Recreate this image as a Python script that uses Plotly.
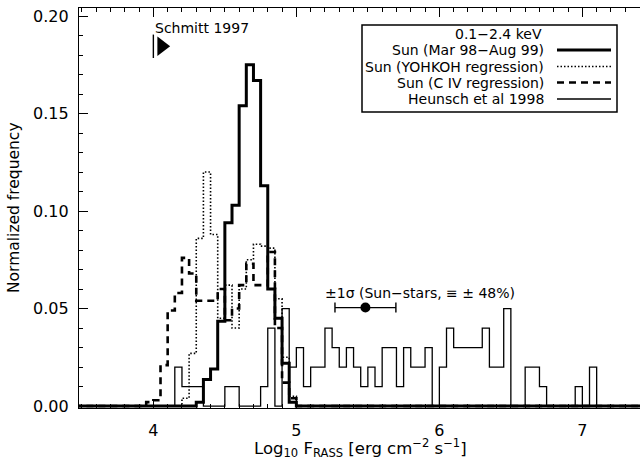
import numpy as np
import plotly.graph_objects as go

# ---------------- data ----------------
BIN = 0.05
sun_start = 4.30
sun_vals = [0.002, 0.0136, 0.019, 0.0435, 0.094, 0.103, 0.154, 0.175,
            0.167, 0.113, 0.060, 0.045, 0.022, 0.002]

yoh_start = 4.20
yoh_vals = [0.004, 0.027, 0.086, 0.120, 0.088, 0.045, 0.062, 0.040,
            0.060, 0.075, 0.083, 0.082, 0.081, 0.055, 0.025, 0.005]

civ_start = 3.95
civ_vals = [0.002, 0.003, 0.021, 0.049, 0.058, 0.076, 0.068, 0.054, 0.054,
            0.054, 0.060, 0.044, 0.050, 0.062, 0.073, 0.062, 0.062, 0.079,
            0.040, 0.012, 0.004]

heu_start = 4.15
heu_vals = [0.02, 0.01, 0.01, 0.01, 0.00, 0.00, 0.00, 0.01, 0.01, 0.00,
            0.00, 0.00, 0.01, 0.04, 0.00, 0.05, 0.02, 0.03, 0.01, 0.02,
            0.02, 0.04, 0.03, 0.02, 0.03, 0.02, 0.01, 0.02, 0.01, 0.03,
            0.03, 0.01, 0.03, 0.02, 0.02, 0.03, 0.00, 0.02, 0.04, 0.03,
            0.03, 0.03, 0.03, 0.04, 0.02, 0.02, 0.05, 0.00, 0.00, 0.02,
            0.02, 0.01, 0.00, 0.00, 0.00, 0.00, 0.01, 0.00, 0.02]

err_center = 5.483
err_half = 0.213
err_level = 0.0505
schmitt_x = 4.0
schmitt_y = 0.1845

# ---------------- layout geometry ----------------
W, H = 640, 465
L, R, T, B = 79, 0, 8, 57
PW, PH = W - L - R, H - T - B
X0 = 3.48
X1 = X0 + PW / 143.0
Y0 = -0.001
Y1 = Y0 + PH / 1950.0

FONT = "DejaVu Sans"


def steps(start, vals):
    edges = start + BIN * np.arange(len(vals) + 1)
    x = np.concatenate([[X0 - 0.2], edges, [X1 + 0.2]])
    y = [0.0] + list(vals) + [0.0, 0.0]
    return x, y


def px(xp):
    return (xp - L) / PW


def py(yp):
    return (H - B - yp) / PH


fig = go.Figure()

for (start, vals, width, dash) in [
    (heu_start, heu_vals, 1.3, "solid"),
    (yoh_start, yoh_vals, 1.6, "1.5px,2px"),
    (civ_start, civ_vals, 2.6, "7px,5px"),
    (sun_start, sun_vals, 3.0, "solid"),
]:
    x, y = steps(start, vals)
    fig.add_trace(go.Scatter(x=x, y=y, mode="lines", line_shape="hv",
                             line=dict(color="black", width=width, dash=dash),
                             showlegend=False, hoverinfo="skip"))

# error bar with dot
fig.add_trace(go.Scatter(x=[err_center], y=[err_level], mode="markers",
                         marker=dict(color="black", size=10),
                         error_x=dict(type="data", array=[err_half], width=5,
                                      thickness=1.4, color="black"),
                         showlegend=False, hoverinfo="skip"))

# Schmitt 1997 marker
fig.add_trace(go.Scatter(x=[schmitt_x, schmitt_x],
                         y=[schmitt_y - 0.006, schmitt_y + 0.006],
                         mode="lines", line=dict(color="black", width=1.4),
                         showlegend=False, hoverinfo="skip"))
fig.add_trace(go.Scatter(x=[schmitt_x + 0.058], y=[schmitt_y], mode="markers",
                         marker=dict(symbol="triangle-right", color="black", size=17),
                         showlegend=False, hoverinfo="skip"))

annotations = [
    dict(x=schmitt_x, y=schmitt_y + 0.0095, xref="x", yref="y", text="Schmitt 1997",
         showarrow=False, xanchor="left", yanchor="middle",
         font=dict(family=FONT, size=14, color="black")),
    dict(x=err_center + 0.38, y=0.0582, xref="x", yref="y",
         text="±1σ (Sun−stars, ≡ ± 48%)", showarrow=False,
         xanchor="center", yanchor="middle",
         font=dict(family=FONT, size=14, color="black")),
    dict(x=px(360), y=py(448), xref="paper", yref="paper",
         text="Log<sub>10</sub> F<sub>RASS</sub> [erg cm<sup>−2</sup> s<sup>−1</sup>]",
         showarrow=False, xanchor="center", yanchor="middle",
         font=dict(family=FONT, size=16.5, color="black")),
    dict(x=px(14), y=py(208), xref="paper", yref="paper",
         text="Normalized frequency", textangle=-90, showarrow=False,
         xanchor="center", yanchor="middle",
         font=dict(family=FONT, size=15.5, color="black")),
    dict(x=px(498), y=py(34), xref="paper", yref="paper", text="0.1−2.4 keV",
         showarrow=False, xanchor="center", yanchor="middle",
         font=dict(family=FONT, size=14, color="black")),
]

legend_rows = [
    ("Sun (Mar 98−Aug 99)", 3.0, "solid", 50),
    ("Sun (YOHKOH regression)", 1.6, "dot", 66.5),
    ("Sun (C IV regression)", 2.6, "dash", 82.5),
    ("Heunsch et al 1998", 1.3, "solid", 99),
]
shapes = [dict(type="rect", xref="paper", yref="paper",
               x0=px(362), x1=px(617), y0=py(25), y1=py(112),
               line=dict(color="black", width=1.5), fillcolor="white", layer="above")]
dash_map = {"solid": "solid", "dot": "1.5px,2px", "dash": "7px,5px"}
for text, w, d, ypix in legend_rows:
    annotations.append(dict(x=px(546), y=py(ypix), xref="paper", yref="paper",
                            text=text, showarrow=False, xanchor="right",
                            yanchor="middle",
                            font=dict(family=FONT, size=14, color="black")))
    shapes.append(dict(type="line", xref="paper", yref="paper",
                       x0=px(557), x1=px(611), y0=py(ypix), y1=py(ypix),
                       line=dict(color="black", width=w, dash=dash_map[d]),
                       layer="above"))

fig.update_layout(
    width=W, height=H,
    margin=dict(l=L, r=R, t=T, b=B, pad=0),
    paper_bgcolor="white", plot_bgcolor="white",
    showlegend=False,
    annotations=annotations,
    shapes=shapes,
    font=dict(family=FONT, color="black"),
)

fig.update_xaxes(range=[X0, X1], showgrid=False, zeroline=False,
                 showline=True, linecolor="black", linewidth=1.3, mirror="ticks",
                 ticks="inside", ticklen=9, tickwidth=1.2, tickcolor="black",
                 tick0=0, dtick=1, ticklabelstandoff=8,
                 tickfont=dict(family=FONT, size=16, color="black"),
                 minor=dict(ticks="inside", ticklen=4, dtick=0.1, tickwidth=1,
                            tickcolor="black", showgrid=False))
fig.update_yaxes(range=[Y0, Y1], showgrid=False, zeroline=False,
                 showline=True, linecolor="black", linewidth=1.3, mirror=False,
                 ticks="inside", ticklen=9, tickwidth=1.2, tickcolor="black",
                 tick0=0, dtick=0.05, tickformat=".2f", ticklabelstandoff=6,
                 tickfont=dict(family=FONT, size=16, color="black"),
                 minor=dict(ticks="inside", ticklen=4, dtick=0.01, tickwidth=1,
                            tickcolor="black", showgrid=False))

fig.write_html("out.html")
